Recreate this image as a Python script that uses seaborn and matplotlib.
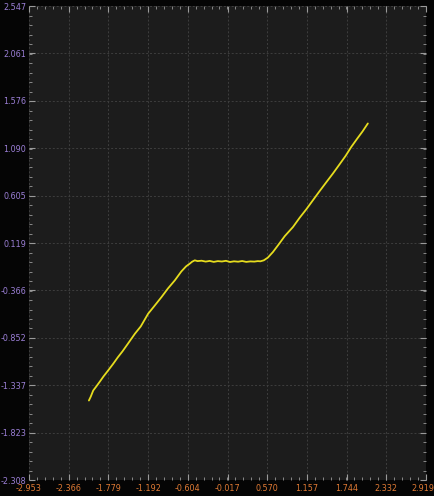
import numpy as np
import pandas as pd
import matplotlib
matplotlib.use("Agg")
import matplotlib.pyplot as plt
import matplotlib.transforms as mtrans
import seaborn as sns
from matplotlib.ticker import FixedLocator, AutoMinorLocator

# Dead-zone transfer curve
x_vals = [-2.067, -2.040, -2.003, -1.960, -1.905, -1.850, -1.790, -1.708, -1.640, -1.570,
          -1.490, -1.387, -1.300, -1.191, -1.100, -0.993, -0.900, -0.796, -0.700, -0.630,
          -0.575, -0.540, -0.501, -0.460, -0.400, -0.340, -0.280, -0.220, -0.160, -0.100,
          -0.040, 0.020, 0.080, 0.140, 0.200, 0.260, 0.320, 0.380, 0.430, 0.470,
          0.520, 0.580, 0.655, 0.740, 0.830, 0.951, 1.050, 1.150, 1.246, 1.340,
          1.440, 1.542, 1.640, 1.730, 1.814, 1.900, 1.980, 2.059]
y_vals = [-1.494, -1.455, -1.391, -1.352, -1.300, -1.246, -1.193, -1.118, -1.052, -0.990,
          -0.912, -0.810, -0.735, -0.605, -0.527, -0.434, -0.348, -0.263, -0.172, -0.120,
          -0.092, -0.072, -0.058, -0.066, -0.062, -0.071, -0.064, -0.074, -0.066, -0.070,
          -0.063, -0.075, -0.068, -0.072, -0.065, -0.074, -0.069, -0.071, -0.066, -0.068,
          -0.058, -0.030, 0.027, 0.105, 0.190, 0.283, 0.378, 0.466, 0.557, 0.646,
          0.738, 0.831, 0.925, 1.012, 1.104, 1.187, 1.262, 1.344]

x_ticks = [-2.953, -2.366, -1.779, -1.192, -0.604, -0.017, 0.570, 1.157, 1.744, 2.332, 2.919]
y_ticks = [2.547, 2.061, 1.576, 1.090, 0.605, 0.119, -0.366, -0.852, -1.337, -1.823, -2.308]

df = pd.DataFrame({"x": x_vals, "y": y_vals})

sns.set_style("dark")
plt.rcParams['font.family'] = ['DejaVu Sans']
plt.rcParams['font.stretch'] = 'condensed'

fig = plt.figure(figsize=(4.35, 4.96), dpi=100, facecolor="#050505")
ax = fig.add_axes([29 / 435, 1 - 480 / 496, 397 / 435, 474 / 496])
ax.set_facecolor("#1c1c1c")

sns.lineplot(data=df, x="x", y="y", ax=ax, sort=False, estimator=None,
             color="#e6dc1e", linewidth=1.3)

ax.set_xlim(x_ticks[0], x_ticks[-1])
ax.set_ylim(y_ticks[-1], y_ticks[0])
ax.xaxis.set_major_locator(FixedLocator(x_ticks))
ax.yaxis.set_major_locator(FixedLocator(y_ticks))
ax.set_xticklabels([f"{v:.3f}" for v in x_ticks])
ax.set_yticklabels([f"{v:.3f}" for v in y_ticks])
ax.xaxis.set_minor_locator(AutoMinorLocator(5))
ax.yaxis.set_minor_locator(AutoMinorLocator(5))

ax.grid(True, which="major", color="#3e3e3e", linestyle=(0, (2, 2)), linewidth=0.7)
ax.tick_params(axis="both", which="both", direction="in", color="#9a9a9a",
               top=True, right=True, bottom=True, left=True)
ax.tick_params(which="major", length=4, width=0.8)
ax.tick_params(which="minor", length=2, width=0.6)
ax.tick_params(axis="x", labelsize=6.5, labelcolor="#e07a34", pad=3)
ax.tick_params(axis="y", labelsize=6.5, labelcolor="#9b7fd6", pad=2)
for sp in ax.spines.values():
    sp.set_visible(False)
ax.set_xlabel("")
ax.set_ylabel("")

# nudge the last x label so it stays on the canvas
last = ax.get_xticklabels()[-1]
last.set_transform(last.get_transform() + mtrans.ScaledTranslation(-2.5 / 72, 0, fig.dpi_scale_trans))

fig.savefig("out.png", dpi=100, facecolor=fig.get_facecolor())
